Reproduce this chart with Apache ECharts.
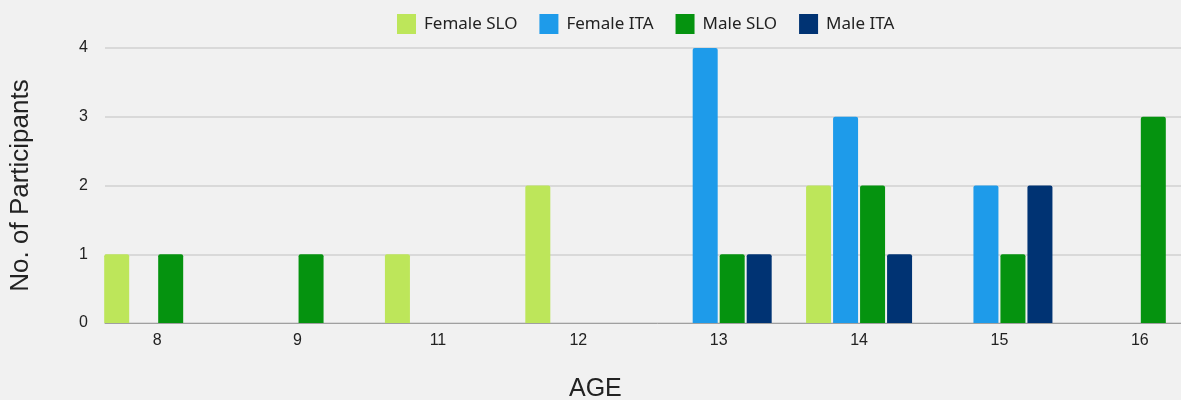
<!DOCTYPE html>
<html>
<head>
<meta charset="utf-8">
<script src="https://cdn.jsdelivr.net/npm/echarts@6/dist/echarts.min.js"></script>
<style>
  html, body { margin: 0; padding: 0; background: #f1f1f1; overflow: hidden; }
  /* 画布比窗口宽，最后一组右侧被裁掉 */
  #chart { width: 1210px; height: 400px; }
</style>
</head>
<body>
<div id="chart"></div>
<script>
// 年龄分组
const ages = ['8', '9', '11', '12', '13', '14', '15', '16'];
// 各组人数
const femaleSlo = [1, 0, 1, 2, 0, 2, 0, 0];
const femaleIta = [0, 0, 0, 0, 4, 3, 2, 0];
const maleSlo = [1, 1, 0, 0, 1, 2, 1, 3];
const maleIta = [0, 0, 0, 0, 1, 1, 2, 0];

const colors = ['#bde65a', '#1e9bea', '#05930f', '#003373'];

let chart = echarts.init(document.getElementById('chart'));

function bar(name, data, idx) {
    return {
        name: name,
        type: 'bar',
        xAxisIndex: 0,
        yAxisIndex: 0,
        data: data,
        barWidth: 25,
        barGap: '8%',
        itemStyle: {color: colors[idx], borderRadius: [2, 2, 0, 0]}
    };
}

let option = {
    backgroundColor: '#f1f1f1',
    animation: false,
    legend: {
        left: 392,
        top: 9,
        itemWidth: 19,
        itemHeight: 20,
        itemGap: 22,
        icon: 'rect',
        textStyle: {fontFamily: 'Noto Sans', fontSize: 17, color: '#222', padding: [0, 0, 0, 3]},
        data: ['Female SLO', 'Female ITA', 'Male SLO', 'Male ITA']
    },
    title: {
        text: 'AGE',
        left: 564,
        top: 372,
        textStyle: {fontFamily: 'Liberation Sans', fontSize: 25, fontWeight: 'normal', color: '#222'}
    },
    grid: [
        //柱子所在的网格
        {left: 87, right: 0, top: 48, bottom: 77},
        //坐标轴与网格线
        {left: 104, right: 0, top: 48, bottom: 77}
    ],
    xAxis: [
        {
            type: 'category',
            gridIndex: 0,
            data: ages,
            axisLine: {show: false},
            axisTick: {show: false},
            axisLabel: {margin: 10, fontFamily: 'Liberation Sans', fontSize: 16, color: '#222'}
        },
        {
            type: 'value',
            gridIndex: 1,
            min: 0,
            max: 1,
            axisLine: {show: true, lineStyle: {color: '#a0a0a0', width: 1}},
            axisTick: {show: false},
            axisLabel: {show: false},
            splitLine: {show: false}
        }
    ],
    yAxis: [
        {
            type: 'value',
            gridIndex: 0,
            min: 0,
            max: 4,
            interval: 1,
            axisLine: {show: false},
            axisLabel: {show: false},
            splitLine: {show: false}
        },
        {
            type: 'value',
            gridIndex: 1,
            min: 0,
            max: 4,
            interval: 1,
            name: 'No. of Participants',
            nameLocation: 'middle',
            nameGap: 71,
            nameTextStyle: {fontFamily: 'Liberation Sans', fontSize: 26, color: '#222'},
            axisLine: {show: false},
            axisTick: {show: false},
            axisLabel: {margin: 17, fontFamily: 'Liberation Sans', fontSize: 16, color: '#222'},
            splitLine: {lineStyle: {color: '#d0d0d0', width: 1.5}}
        }
    ],
    series: [
        bar('Female SLO', femaleSlo, 0),
        bar('Female ITA', femaleIta, 1),
        bar('Male SLO', maleSlo, 2),
        bar('Male ITA', maleIta, 3)
    ]
};

chart.setOption(option);
</script>
</body>
</html>
